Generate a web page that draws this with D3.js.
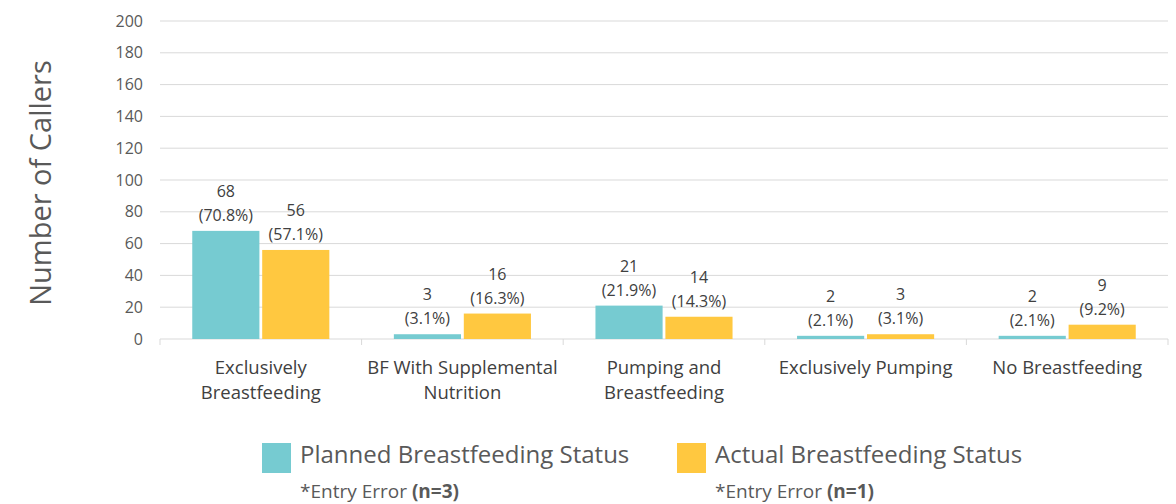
<!DOCTYPE html>
<html>
<head>
<meta charset="utf-8">
<script src="https://cdn.jsdelivr.net/npm/d3@7"></script>
<style>
  body { margin: 0; background: #fff; }
  svg { display: block; font-family: "Open Sans", Lato, sans-serif; }
</style>
</head>
<body>
<div id="chart"></div>
<script>
const categories = [
  ["Exclusively", "Breastfeeding"],
  ["BF With Supplemental", "Nutrition"],
  ["Pumping and", "Breastfeeding"],
  ["Exclusively Pumping"],
  ["No Breastfeeding"]
];
const planned = [68, 3, 21, 2, 2];
const plannedPct = ["70.8%", "3.1%", "21.9%", "2.1%", "2.1%"];
const actual = [56, 16, 14, 3, 9];
const actualPct = ["57.1%", "16.3%", "14.3%", "3.1%", "9.2%"];
const yTicks = [0, 20, 40, 60, 80, 100, 120, 140, 160, 180, 200];
const seriesNames = ["Planned Breastfeeding Status", "Actual Breastfeeding Status"];
const footnotes = [["*Entry Error ", "(n=3)"], ["*Entry Error ", "(n=1)"]];

const width = 1176, height = 504;
const margin = { left: 160, right: 8, top: 21, bottom: 165 };
const colors = ["#76cbd1", "#ffc840"];

const svg = d3.select("#chart").append("svg")
  .attr("width", width).attr("height", height);

const x = d3.scaleBand()
  .domain(d3.range(categories.length))
  .range([margin.left, width - margin.right])
  .paddingInner(0.32).paddingOuter(0.16);

const x1 = d3.scaleBand()
  .domain([0, 1])
  .range([0, x.bandwidth()])
  .paddingInner(0.04);

const y = d3.scaleLinear()
  .domain([0, 200])
  .range([height - margin.bottom, margin.top]);

// gridlines
svg.append("g")
  .selectAll("line")
  .data(yTicks.filter(d => d > 0))
  .join("line")
  .attr("x1", margin.left).attr("x2", width - margin.right)
  .attr("y1", d => y(d)).attr("y2", d => y(d))
  .attr("stroke", "#d9d9d9").attr("stroke-width", 1);

// y tick labels
svg.append("g")
  .selectAll("text")
  .data(yTicks)
  .join("text")
  .attr("x", 143).attr("y", d => y(d))
  .attr("dy", "0.35em")
  .attr("text-anchor", "end")
  .attr("fill", "#595959")
  .style("font-size", "16px")
  .text(d => d);

// y axis title
svg.append("text")
  .attr("transform", `translate(51,183) rotate(-90)`)
  .attr("text-anchor", "middle")
  .attr("fill", "#595959")
  .style("font-size", "29px")
  .text("Number of Callers");

// baseline + category ticks
const catW = (width - margin.right - margin.left) / categories.length;
svg.append("line")
  .attr("x1", margin.left).attr("x2", width - margin.right)
  .attr("y1", y(0)).attr("y2", y(0))
  .attr("stroke", "#d9d9d9");
svg.append("g")
  .selectAll("line")
  .data(d3.range(categories.length + 1))
  .join("line")
  .attr("x1", i => margin.left + i * catW)
  .attr("x2", i => margin.left + i * catW)
  .attr("y1", y(0)).attr("y2", y(0) + 6)
  .attr("stroke", "#d9d9d9");

// bars
const series = [
  { vals: planned, pct: plannedPct },
  { vals: actual, pct: actualPct }
];
series.forEach((s, si) => {
  const g = svg.append("g");
  g.selectAll("rect")
    .data(s.vals)
    .join("rect")
    .attr("x", (d, i) => x(i) + x1(si))
    .attr("y", d => y(d))
    .attr("width", x1.bandwidth())
    .attr("height", d => y(0) - y(d))
    .attr("fill", colors[si]);

  const lbl = g.selectAll("text.lbl")
    .data(s.vals)
    .join("text")
    .attr("class", "lbl")
    .attr("text-anchor", "middle")
    .attr("fill", "#404040")
    .style("font-size", "16px");
  lbl.append("tspan")
    .attr("x", (d, i) => x(i) + x1(si) + x1.bandwidth() / 2)
    .attr("y", d => y(d) - 34)
    .text(d => d);
  lbl.append("tspan")
    .attr("x", (d, i) => x(i) + x1(si) + x1.bandwidth() / 2)
    .attr("y", d => y(d) - 10)
    .text((d, i) => `(${s.pct[i]})`);
});

// category labels
const cl = svg.append("g")
  .selectAll("text")
  .data(categories)
  .join("text")
  .attr("text-anchor", "middle")
  .attr("fill", "#404040")
  .style("font-size", "18.5px");
cl.selectAll("tspan")
  .data((d, i) => d.map(t => ({ t, i })))
  .join("tspan")
  .attr("x", d => x(d.i) + x.bandwidth() / 2)
  .attr("y", (d, j) => 374 + j * 25)
  .text(d => d.t);

// legend
const legX = [262, 677];
seriesNames.forEach((name, i) => {
  svg.append("rect")
    .attr("x", legX[i]).attr("y", 443)
    .attr("width", 29).attr("height", 30)
    .attr("fill", colors[i]);
  svg.append("text")
    .attr("x", legX[i] + 38).attr("y", 463)
    .attr("fill", "#595959")
    .style("font-size", "24px")
    .text(name);
  const fn = svg.append("text")
    .attr("x", legX[i] + 38).attr("y", 498)
    .attr("fill", "#595959")
    .style("font-size", "19px");
  fn.append("tspan").text(footnotes[i][0]);
  fn.append("tspan").attr("font-weight", "bold").text(footnotes[i][1]);
});
</script>
</body>
</html>
